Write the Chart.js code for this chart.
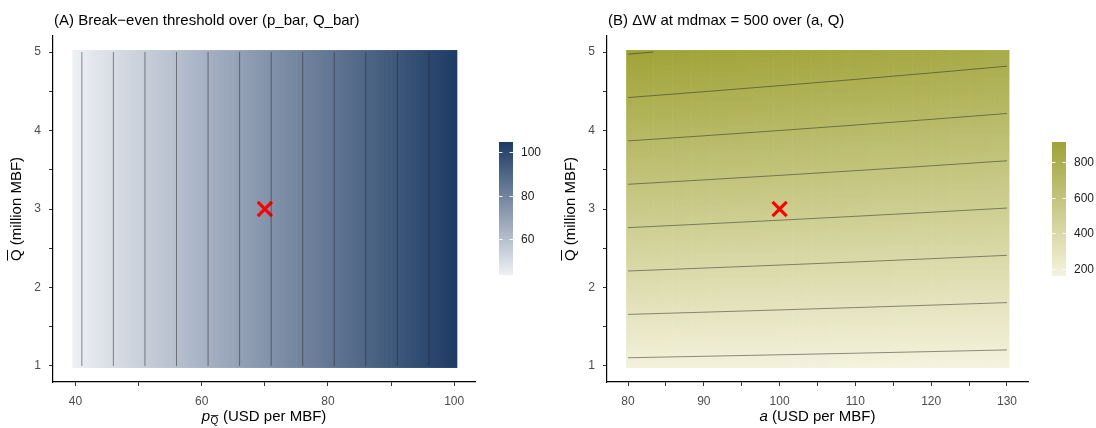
<!DOCTYPE html>
<html>
<head>
<meta charset="utf-8">
<script src="https://cdn.jsdelivr.net/npm/chart.js@4.4.1/dist/chart.umd.min.js"></script>
<style>
  body { margin: 0; background: #fff; width: 1096px; height: 428px; overflow: hidden; display: flex; }
  canvas { display: block; }
</style>
</head>
<body>
<canvas id="chartA" width="548" height="428"></canvas>
<canvas id="chartB" width="548" height="428"></canvas>
<script>
// Panel A: break-even threshold, only depends on p_bar
const pGrid = [40, 45, 50, 55, 60, 65, 70, 75, 80, 85, 90, 95, 100];
const thresholdA = [44, 49, 54, 59, 64, 69, 74, 79, 84, 89, 94, 99, 104];
const qRangeA = [1, 5];
const levelsA = [45, 50, 55, 60, 65, 70, 75, 80, 85, 90, 95, 100];
const fillLimitsA = [43.6, 104.6];
const legendTicksA = [60, 80, 100];
const xTicksA = [40, 50, 60, 70, 80, 90, 100];
const xLabelsA = [40, 60, 80, 100];
const markA = [{ x: 70, y: 3 }];

// Panel B: delta W at mdmax = 500, rows follow qGrid, columns follow aGrid
const aGrid = [80, 90, 100, 110, 120, 130];
const qGrid = [1, 2, 3, 4, 5];
const deltaW = [
    [181, 178, 175, 172, 169, 166],
    [362, 356, 350, 344, 338, 332],
    [543, 534, 525, 516, 507, 498],
    [724, 712, 700, 688, 676, 664],
    [905, 890, 875, 860, 845, 830]
];
const levelsB = [200, 300, 400, 500, 600, 700, 800, 900];
const fillLimitsB = [159, 914];
const legendTicksB = [200, 400, 600, 800];
const xTicksB = [80, 85, 90, 95, 100, 105, 110, 115, 120, 125, 130];
const xLabelsB = [80, 90, 100, 110, 120, 130];
const markB = [{ x: 100, y: 3 }];

// shared y axis
const yTicks = [1, 1.5, 2, 2.5, 3, 3.5, 4, 4.5, 5];
const yLabels = [1, 2, 3, 4, 5];

const FONT = '"Liberation Sans", Arial, sans-serif';
const navyLo = [238, 240, 244], navyHi = [28, 58, 99];
const oliveLo = [245, 243, 222], oliveHi = [159, 162, 54];
const contourColor = 'rgba(35,35,35,0.5)';

function colorFor(v, lim, lo, hi) {
    let t = (v - lim[0]) / (lim[1] - lim[0]);
    t = Math.max(0, Math.min(1, t));
    const c = lo.map((l, i) => Math.round(l + (hi[i] - l) * t));
    return `rgb(${c[0]},${c[1]},${c[2]})`;
}

function crossing(xs, vs, level) {
    for (let i = 0; i < xs.length - 1; i++) {
        const v0 = vs[i], v1 = vs[i + 1];
        if ((v0 - level) * (v1 - level) <= 0 && v0 !== v1) {
            return xs[i] + (level - v0) / (v1 - v0) * (xs[i + 1] - xs[i]);
        }
    }
    return null;
}

function contoursA() {
    return levelsA.map(level => {
        const p = crossing(pGrid, thresholdA, level);
        return [{ x: p, y: qRangeA[0] }, { x: p, y: qRangeA[1] }];
    });
}

function contoursB() {
    return levelsB.map(level => {
        const pts = [];
        for (let i = 0; i < aGrid.length; i++) {
            const col = qGrid.map((q, j) => deltaW[j][i]);
            const q = crossing(qGrid, col, level);
            if (q !== null) pts.push({ x: aGrid[i], y: q });
            if (i < aGrid.length - 1) {
                [0, qGrid.length - 1].forEach(j => {
                    const v0 = deltaW[j][i], v1 = deltaW[j][i + 1];
                    if ((v0 - level) * (v1 - level) < 0) {
                        pts.push({ x: aGrid[i] + (level - v0) / (v1 - v0) * (aGrid[i + 1] - aGrid[i]), y: qGrid[j] });
                    }
                });
            }
        }
        return pts;
    });
}

// heat fill for panel A: horizontal gradients between grid columns
function drawHeatA(chart) {
    const { ctx, scales } = chart;
    const padX = 0.5, padY = 0.025;
    const yTop = scales.y.getPixelForValue(qRangeA[1] + padY);
    const yBot = scales.y.getPixelForValue(qRangeA[0] - padY);
    for (let i = 0; i < pGrid.length - 1; i++) {
        const x0 = scales.x.getPixelForValue(pGrid[i]);
        const x1 = scales.x.getPixelForValue(pGrid[i + 1]);
        const left = i === 0 ? scales.x.getPixelForValue(pGrid[0] - padX) : x0;
        const right = i === pGrid.length - 2 ? scales.x.getPixelForValue(pGrid[i + 1] + padX) : x1 + 0.5;
        const g = ctx.createLinearGradient(x0, 0, x1, 0);
        g.addColorStop(0, colorFor(thresholdA[i], fillLimitsA, navyLo, navyHi));
        g.addColorStop(1, colorFor(thresholdA[i + 1], fillLimitsA, navyLo, navyHi));
        ctx.fillStyle = g;
        ctx.fillRect(left, yTop, right - left, yBot - yTop);
    }
}

// heat fill for panel B: each grid cell cut into thin vertical strips
function drawHeatB(chart) {
    const { ctx, scales } = chart;
    const padX = 0.25, padY = 0.025, strips = 12;
    for (let i = 0; i < aGrid.length - 1; i++) {
        for (let s = 0; s < strips; s++) {
            const f0 = s / strips, f1 = (s + 1) / strips, fm = (f0 + f1) / 2;
            let a0 = aGrid[i] + f0 * (aGrid[i + 1] - aGrid[i]);
            let a1 = aGrid[i] + f1 * (aGrid[i + 1] - aGrid[i]);
            if (i === 0 && s === 0) a0 -= padX;
            if (i === aGrid.length - 2 && s === strips - 1) a1 += padX;
            const x0 = scales.x.getPixelForValue(a0);
            const x1 = scales.x.getPixelForValue(a1);
            for (let j = 0; j < qGrid.length - 1; j++) {
                const vb = deltaW[j][i] + (deltaW[j][i + 1] - deltaW[j][i]) * fm;
                const vt = deltaW[j + 1][i] + (deltaW[j + 1][i + 1] - deltaW[j + 1][i]) * fm;
                const yb = scales.y.getPixelForValue(qGrid[j]);
                const yt = scales.y.getPixelForValue(qGrid[j + 1]);
                const bottom = j === 0 ? scales.y.getPixelForValue(qGrid[0] - padY) : yb + 0.5;
                const top = j === qGrid.length - 2 ? scales.y.getPixelForValue(qGrid[j + 1] + padY) : yt;
                const g = ctx.createLinearGradient(0, yb, 0, yt);
                g.addColorStop(0, colorFor(vb, fillLimitsB, oliveLo, oliveHi));
                g.addColorStop(1, colorFor(vt, fillLimitsB, oliveLo, oliveHi));
                ctx.fillStyle = g;
                ctx.fillRect(x0, top, x1 - x0 + 0.6, bottom - top);
            }
        }
    }
}

function drawColorbar(ctx, box, lim, lo, hi, ticks) {
    const g = ctx.createLinearGradient(0, box.y + box.h, 0, box.y);
    g.addColorStop(0, colorFor(lim[0], lim, lo, hi));
    g.addColorStop(1, colorFor(lim[1], lim, lo, hi));
    ctx.fillStyle = g;
    ctx.fillRect(box.x, box.y, box.w, box.h);
    ctx.font = `12px ${FONT}`;
    ctx.textAlign = 'left';
    ctx.textBaseline = 'middle';
    ticks.forEach(v => {
        const y = Math.round(box.y + box.h - (v - lim[0]) / (lim[1] - lim[0]) * box.h) + 0.5;
        ctx.strokeStyle = 'rgba(255,255,255,0.9)';
        ctx.lineWidth = 1;
        ctx.beginPath();
        ctx.moveTo(box.x, y); ctx.lineTo(box.x + 3.5, y);
        ctx.moveTo(box.x + box.w - 3.5, y); ctx.lineTo(box.x + box.w, y);
        ctx.stroke();
        ctx.fillStyle = '#1a1a1a';
        ctx.fillText(String(v), box.x + box.w + 8, y + 0.5);
    });
}

function drawYTitle(ctx, cx, cy) {
    ctx.save();
    ctx.translate(cx, cy);
    ctx.rotate(-Math.PI / 2);
    ctx.font = `15px ${FONT}`;
    ctx.fillStyle = '#000';
    ctx.textAlign = 'left';
    ctx.textBaseline = 'alphabetic';
    const rest = ' (million MBF)';
    const wQ = ctx.measureText('Q').width;
    const w = wQ + ctx.measureText(rest).width;
    const x0 = -w / 2, base = 5;
    ctx.fillText('Q', x0, base);
    ctx.fillText(rest, x0 + wQ, base);
    ctx.strokeStyle = '#000';
    ctx.lineWidth = 1;
    ctx.beginPath();
    ctx.moveTo(x0 + 0.5, base - 13.5);
    ctx.lineTo(x0 + wQ - 0.5, base - 13.5);
    ctx.stroke();
    ctx.restore();
}

function drawXTitle(ctx, cx, base, italicPart, subQ) {
    ctx.save();
    ctx.fillStyle = '#000';
    ctx.textBaseline = 'alphabetic';
    ctx.textAlign = 'left';
    const rest = ' (USD per MBF)';
    ctx.font = `italic 15px ${FONT}`;
    const wi = ctx.measureText(italicPart).width;
    ctx.font = `10px ${FONT}`;
    const ws = subQ ? ctx.measureText('Q').width + 1 : 0;
    ctx.font = `15px ${FONT}`;
    const wr = ctx.measureText(rest).width;
    let x = cx - (wi + ws + wr) / 2;
    ctx.font = `italic 15px ${FONT}`;
    ctx.fillText(italicPart, x, base);
    x += wi;
    if (subQ) {
        ctx.font = `10px ${FONT}`;
        ctx.fillText('Q', x + 0.5, base + 3);
        ctx.strokeStyle = '#000';
        ctx.lineWidth = 0.8;
        ctx.beginPath();
        ctx.moveTo(x + 0.8, base - 5.5);
        ctx.lineTo(x + ws - 0.5, base - 5.5);
        ctx.stroke();
        x += ws;
    }
    ctx.font = `15px ${FONT}`;
    ctx.fillText(rest, x, base);
    ctx.restore();
}

function makeChart(id, cfg) {
    const tickFont = { family: FONT, size: 12 };
    const panelPlugin = {
        id: 'panel' + id,
        beforeDatasetsDraw(chart) {
            const { ctx, chartArea } = chart;
            ctx.save();
            ctx.beginPath();
            ctx.rect(chartArea.left, chartArea.top, chartArea.width, chartArea.height);
            ctx.clip();
            cfg.heat(chart);
            ctx.restore();
        },
        afterDraw(chart) {
            const { ctx, chartArea } = chart;
            ctx.save();
            ctx.font = `15px ${FONT}`;
            ctx.fillStyle = '#000';
            ctx.textAlign = 'left';
            ctx.textBaseline = 'alphabetic';
            ctx.fillText(cfg.title, chartArea.left + 1, 25);
            ctx.restore();
            drawColorbar(ctx, cfg.bar, cfg.limits, cfg.lo, cfg.hi, cfg.legendTicks);
            drawYTitle(ctx, cfg.yTitleX, (chartArea.top + chartArea.bottom) / 2);
            drawXTitle(ctx, (chartArea.left + chartArea.right) / 2, 421, cfg.xItalic, cfg.xSub);
        }
    };

    const datasets = cfg.contours.map(pts => ({
        type: 'line',
        data: pts,
        borderColor: contourColor,
        borderWidth: 1,
        pointRadius: 0,
        fill: false,
        tension: 0
    }));
    datasets.push({
        type: 'scatter',
        data: cfg.mark,
        pointStyle: 'crossRot',
        pointRadius: 10,
        borderColor: '#ff0000',
        borderWidth: 3.2
    });

    return new Chart(document.getElementById(id), {
        type: 'scatter',
        data: { datasets },
        options: {
            responsive: false,
            animation: false,
            devicePixelRatio: 1,
            layout: { padding: { top: 36, right: cfg.padRight, left: 0, bottom: 0 } },
            plugins: { legend: { display: false }, tooltip: { enabled: false }, title: { display: false } },
            scales: {
                x: {
                    type: 'linear',
                    min: cfg.xMin,
                    max: cfg.xMax,
                    afterBuildTicks: s => { s.ticks = cfg.xTicks.map(v => ({ value: v })); },
                    afterFit: s => { s.height = 46; },
                    ticks: {
                        autoSkip: false,
                        maxRotation: 0,
                        padding: 8,
                        color: '#4d4d4d',
                        font: tickFont,
                        callback: v => cfg.xLabels.includes(v) ? String(v) : ''
                    },
                    grid: { drawOnChartArea: false, drawTicks: true, tickLength: 4, tickColor: '#333' },
                    border: { display: true, color: '#000', width: 1.2 }
                },
                y: {
                    type: 'linear',
                    min: 0.796,
                    max: 5.204,
                    afterBuildTicks: s => { s.ticks = yTicks.map(v => ({ value: v })); },
                    afterFit: s => { s.width = cfg.yWidth; },
                    ticks: {
                        autoSkip: false,
                        padding: 8,
                        color: '#4d4d4d',
                        font: tickFont,
                        callback: v => yLabels.includes(v) ? String(v) : ''
                    },
                    grid: { drawOnChartArea: false, drawTicks: true, tickLength: 4, tickColor: '#333' },
                    border: { display: true, color: '#000', width: 1.2 }
                }
            }
        },
        plugins: [panelPlugin]
    });
}

makeChart('chartA', {
    title: '(A) Break\u2212even threshold over (p_bar, Q_bar)',
    heat: drawHeatA,
    contours: contoursA(),
    mark: markA,
    xMin: 36.43, xMax: 103.3,
    xTicks: xTicksA, xLabels: xLabelsA,
    yWidth: 53, padRight: 73,
    bar: { x: 499, y: 142, w: 14, h: 133 },
    limits: fillLimitsA, lo: navyLo, hi: navyHi, legendTicks: legendTicksA,
    yTitleX: 16, xItalic: 'p', xSub: true
});

makeChart('chartB', {
    title: '(B) \u0394W at mdmax = 500 over (a, Q)',
    heat: drawHeatB,
    contours: contoursB(),
    mark: markB,
    xMin: 77.225, xMax: 132.775,
    xTicks: xTicksB, xLabels: xLabelsB,
    yWidth: 59, padRight: 68,
    bar: { x: 504, y: 142, w: 14, h: 134 },
    limits: fillLimitsB, lo: oliveLo, hi: oliveHi, legendTicks: legendTicksB,
    yTitleX: 22, xItalic: 'a', xSub: false
});
</script>
</body>
</html>
